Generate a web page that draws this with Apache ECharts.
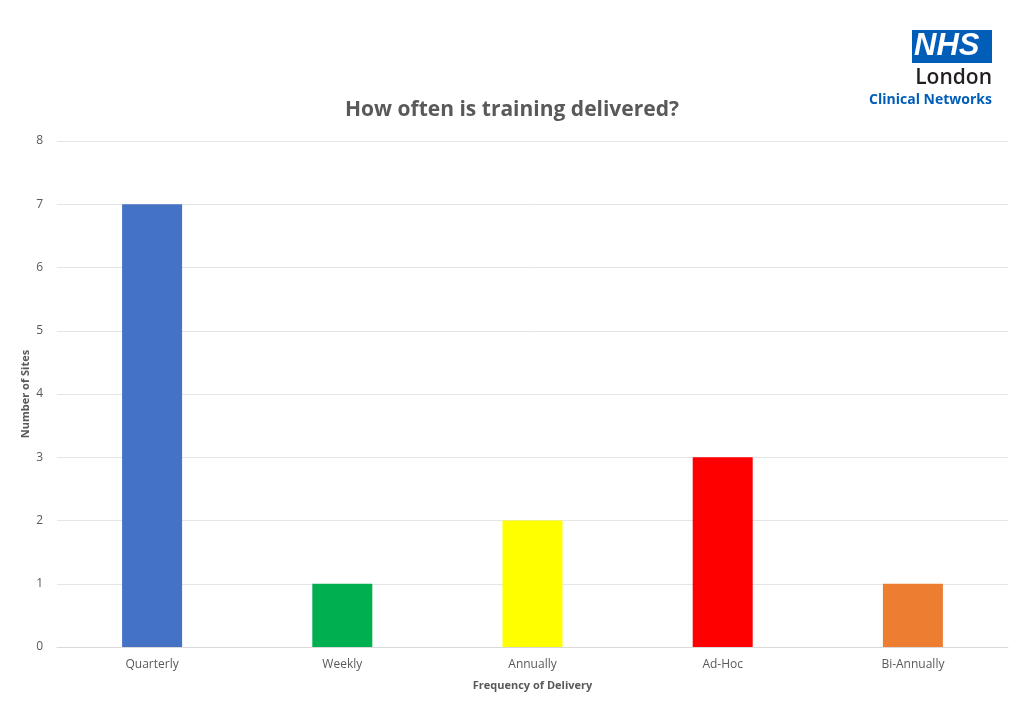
<!DOCTYPE html>
<html><head><meta charset="utf-8">
<script src="https://cdn.jsdelivr.net/npm/echarts@6/dist/echarts.min.js"></script>
<style>html,body{margin:0;padding:0;background:#fff}#c{width:1024px;height:709px}</style>
</head><body><div id="c"></div>
<script>
const categories = ["Quarterly", "Weekly", "Annually", "Ad-Hoc", "Bi-Annually"];
const siteCounts = [7, 1, 2, 3, 1];
const barColors = ["#4472C4", "#00B050", "#FFFF00", "#FF0000", "#ED7D31"];
const yTicks = [0, 1, 2, 3, 4, 5, 6, 7, 8];

const font = "'Open Sans', 'Noto Sans', sans-serif";
const chart = echarts.init(document.getElementById('c'));
chart.setOption({
  animation: false,
  title: {
    text: "How often is training delivered?",
    left: 'center', top: 95,
    textStyle: { fontFamily: font, fontSize: 21, fontWeight: 'bold', color: '#595959' }
  },
  grid: { left: 57, right: 16, top: 141, bottom: 62 },
  xAxis: {
    type: 'category', data: categories,
    name: "Frequency of Delivery", nameLocation: 'middle', nameGap: 33,
    nameTextStyle: { fontFamily: font, fontSize: 11, fontWeight: 'bold', color: '#595959' },
    axisLine: { lineStyle: { color: '#D9D9D9' } },
    axisTick: { show: false },
    axisLabel: { fontFamily: font, fontSize: 12, color: '#595959', margin: 12 }
  },
  yAxis: {
    type: 'value', min: yTicks[0], max: yTicks[yTicks.length - 1], interval: 1,
    name: "Number of Sites", nameLocation: 'middle', nameGap: 26, nameRotate: 90,
    nameMoveOverlap: false,
    nameTextStyle: { fontFamily: font, fontSize: 11, fontWeight: 'bold', color: '#595959' },
    axisLine: { show: false }, axisTick: { show: false },
    axisLabel: { fontFamily: font, fontSize: 12, color: '#595959', margin: 14 },
    splitLine: { lineStyle: { color: '#E5E5E5' } }
  },
  series: [{
    type: 'bar', barWidth: 60,
    data: siteCounts.map((v, i) => ({ value: v, itemStyle: { color: barColors[i] } }))
  }],
  graphic: [
    { type: 'rect', left: 912, top: 30, shape: { width: 80, height: 33 }, style: { fill: '#005EB8' } },
    { type: 'text', left: 914, top: 31, style: { text: 'NHS', fill: '#fff', font: "italic bold 31px 'Liberation Sans', sans-serif" } },
    { type: 'text', right: 32, top: 68, style: { text: 'London', fill: '#231f20', font: "600 21px 'Open Sans', sans-serif", textAlign: 'right' } },
    { type: 'text', right: 32, top: 93, style: { text: 'Clinical Networks', fill: '#005EB8', font: "bold 14px 'Open Sans', sans-serif", textAlign: 'right' } }
  ]
});
</script></body></html>
